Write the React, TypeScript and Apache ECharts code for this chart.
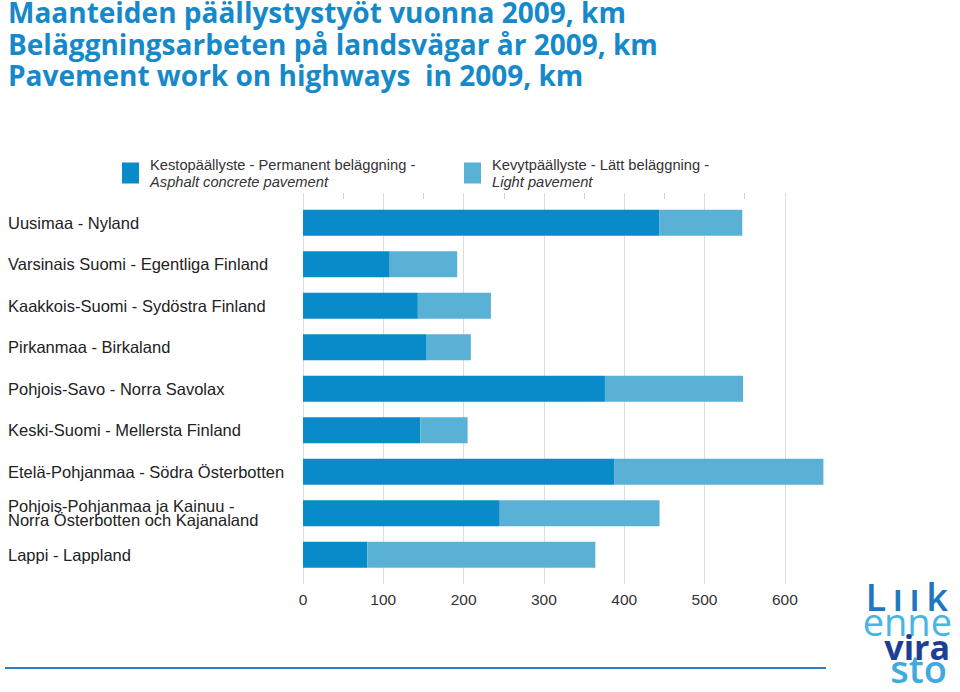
import React, { useEffect, useRef } from 'react';
import * as echarts from 'echarts';

const titleLines = [
  'Maanteiden päällystystyöt vuonna 2009, km',
  'Beläggningsarbeten på landsvägar år 2009, km',
  'Pavement work on highways  in 2009, km',
];

const categories = [
  'Uusimaa - Nyland',
  'Varsinais Suomi - Egentliga Finland',
  'Kaakkois-Suomi - Sydöstra Finland',
  'Pirkanmaa - Birkaland',
  'Pohjois-Savo - Norra Savolax',
  'Keski-Suomi - Mellersta Finland',
  'Etelä-Pohjanmaa - Södra Österbotten',
  'Pohjois-Pohjanmaa ja Kainuu -\nNorra Österbotten och Kajanaland',
  'Lappi - Lappland',
];

const permanentName = 'Kestopäällyste - Permanent beläggning -';
const permanentNameEn = 'Asphalt concrete pavement';
const lightName = 'Kevytpäällyste - Lätt beläggning -';
const lightNameEn = 'Light pavement';

const permanentValues = [444, 108, 143, 154, 376, 146, 388, 245, 80];
const lightValues = [103, 84, 91, 55, 172, 59, 260, 199, 284];

const minorTickValues = [50, 150, 250, 350, 450, 550];

const logoWords = ['L\u2009ı\u2009ı\u2009k', 'enne', 'vira', 'sto'];

const DARK = '#0a8bc9';
const LIGHT = '#5ab1d6';
const TITLE = '#1589ca';

export default function App() {
  const ref = useRef<HTMLDivElement>(null);
  useEffect(() => {
    if (!ref.current) return;
    const chart = echarts.init(ref.current, undefined, { renderer: 'svg' });
    const enMap: Record<string, string> = {
      [permanentName]: permanentNameEn,
      [lightName]: lightNameEn,
    };
    const titleStyle = {
      fontFamily: 'Open Sans',
      fontWeight: 'bold',
      fontSize: 28,
      color: TITLE,
    };
    const option: any = {
      animation: false,
      backgroundColor: '#ffffff',
      title: {
        text: `{t1|${titleLines[0]}}\n{t2|${titleLines[1]}}\n{t3|${titleLines[2]}}`,
        left: 8,
        top: 0,
        padding: 0,
        textStyle: {
          ...titleStyle,
          rich: {
            t1: { ...titleStyle, lineHeight: 24 },
            t2: { ...titleStyle, lineHeight: 39 },
            t3: { ...titleStyle, lineHeight: 24 },
          },
        },
      },
      legend: {
        left: 122,
        top: 157,
        padding: 0,
        itemGap: 14,
        itemWidth: 17,
        itemHeight: 21,
        icon: 'rect',
        selectedMode: false,
        data: [permanentName, lightName],
        formatter: (name: string) => `{a|${name}}\n{b|${enMap[name]}}`,
        textStyle: {
          rich: {
            a: {
              fontFamily: 'Liberation Sans',
              fontSize: 14.7,
              color: '#333',
              lineHeight: 17,
              width: 300,
              padding: [0, 0, 0, 6],
            },
            b: {
              fontFamily: 'Liberation Sans',
              fontStyle: 'italic',
              fontSize: 14.7,
              color: '#333',
              lineHeight: 17,
              width: 300,
              padding: [0, 0, 0, 6],
            },
          },
        },
      },
      grid: [
        { left: 303, width: 522, top: 202, height: 373.5 },
        { left: 303, width: 522, top: 193, height: 391 },
      ],
      xAxis: [
        {
          gridIndex: 0,
          type: 'value',
          min: 0,
          max: 650,
          show: false,
        },
        {
          gridIndex: 1,
          type: 'value',
          min: 0,
          max: 650,
          interval: 100,
          axisLine: { show: false },
          axisTick: { show: false },
          splitLine: {
            show: true,
            showMaxLine: false,
            lineStyle: { color: '#dedede', width: 1 },
          },
          axisLabel: {
            showMaxLabel: false,
            margin: 7,
            fontFamily: 'Liberation Sans',
            fontSize: 15.5,
            color: '#333',
          },
        },
        {
          gridIndex: 1,
          type: 'value',
          min: 0,
          max: 650,
          axisLine: { show: false },
          axisLabel: { show: false },
          splitLine: { show: false },
          axisTick: {
            show: true,
            inside: true,
            length: 6,
            customValues: minorTickValues,
            lineStyle: { color: '#cfcfcf' },
          },
        },
      ],
      yAxis: [
        {
          gridIndex: 0,
          type: 'category',
          data: categories,
          inverse: true,
          axisLine: { show: false },
          axisTick: { show: false },
          axisLabel: {
            align: 'left',
            margin: 295,
            fontFamily: 'Liberation Sans',
            fontSize: 16.5,
            lineHeight: 14,
            color: '#222',
          },
        },
        {
          gridIndex: 1,
          type: 'value',
          min: 0,
          max: 1,
          show: false,
        },
      ],
      series: [
        {
          name: permanentName,
          type: 'bar',
          stack: 'total',
          xAxisIndex: 0,
          yAxisIndex: 0,
          data: permanentValues,
          barCategoryGap: '37%',
          itemStyle: { color: DARK },
        },
        {
          name: lightName,
          type: 'bar',
          stack: 'total',
          xAxisIndex: 0,
          yAxisIndex: 0,
          data: lightValues,
          barCategoryGap: '37%',
          itemStyle: { color: LIGHT },
        },
      ],
      graphic: [
        {
          type: 'line',
          shape: { x1: 5, y1: 668, x2: 826, y2: 668 },
          style: { stroke: '#2a80c2', lineWidth: 2 },
        },
        {
          type: 'text',
          x: 952,
          y: 583,
          style: {
            text: `{a|${logoWords[0]}}\n{b|${logoWords[1]}}\n{c|${logoWords[2]}}\n{d|${logoWords[3]}}`,
            align: 'right',
            verticalAlign: 'top',
            rich: {
              a: { fontFamily: 'Open Sans', fontWeight: 600, fontSize: 38, lineHeight: 25, fill: '#1e77c0', padding: [0, 4, 0, 0] },
              b: { fontFamily: 'Open Sans', fontWeight: 500, fontSize: 38, lineHeight: 25, fill: '#47b6e4', padding: [0, 0, 0, 0] },
              c: { fontFamily: 'Open Sans', fontWeight: 700, fontSize: 34, lineHeight: 27, fill: '#1c3f95', padding: [0, 2, 0, 0] },
              d: { fontFamily: 'Open Sans', fontWeight: 600, fontSize: 38, lineHeight: 15, fill: '#3eaadd', padding: [0, 5, 0, 0] },
            },
          },
        },
      ],
    };
    chart.setOption(option);
    return () => chart.dispose();
  }, []);
  return <div ref={ref} style={{ width: 960, height: 692, position: 'absolute', left: 0, top: 0 }} />;
}
